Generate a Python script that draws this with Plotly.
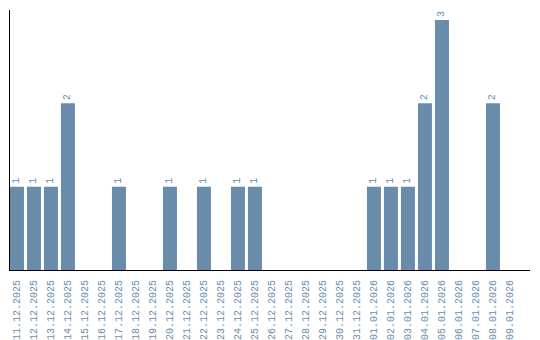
import plotly.graph_objects as go

dates = ["11.12.2025","12.12.2025","13.12.2025","14.12.2025","15.12.2025","16.12.2025",
         "17.12.2025","18.12.2025","19.12.2025","20.12.2025","21.12.2025","22.12.2025",
         "23.12.2025","24.12.2025","25.12.2025","26.12.2025","27.12.2025","28.12.2025",
         "29.12.2025","30.12.2025","31.12.2025","01.01.2026","02.01.2026","03.01.2026",
         "04.01.2026","05.01.2026","06.01.2026","07.01.2026","08.01.2026","09.01.2026"]
counts = [1,1,1,2,0,0,1,0,0,1,0,1,0,1,1,0,0,0,0,0,0,1,1,1,2,3,0,0,2,0]

color = "#6a8cab"
font_family = "Liberation Mono, DejaVu Sans Mono, monospace"
labels = [str(c) if c > 0 else "" for c in counts]

fig = go.Figure(go.Bar(
    x=dates, y=counts, marker_color=color, marker_line_width=0,
    text=labels, textposition="outside", textangle=-90,
    textfont=dict(color=color, size=10, family=font_family),
    cliponaxis=False,
))
fig.update_layout(
    width=540, height=340,
    margin=dict(l=10, r=10, t=10, b=70, autoexpand=False),
    paper_bgcolor="white", plot_bgcolor="white",
    bargap=0.176, showlegend=False,
    uniformtext=dict(minsize=10, mode="show"),
)
fig.update_xaxes(showline=True, linecolor="black", linewidth=1, showgrid=False,
                 tickangle=-90, tickfont=dict(color=color, size=10, family=font_family),
                 ticks="", type="category", range=[-0.41, 30.18],
                 automargin=False, ticklabelstandoff=5)
fig.update_yaxes(showline=True, linecolor="black", linewidth=1, showgrid=False,
                 showticklabels=False, ticks="", range=[0, 3.12], zeroline=False,
                 automargin=False)
fig.write_html("out.html")
